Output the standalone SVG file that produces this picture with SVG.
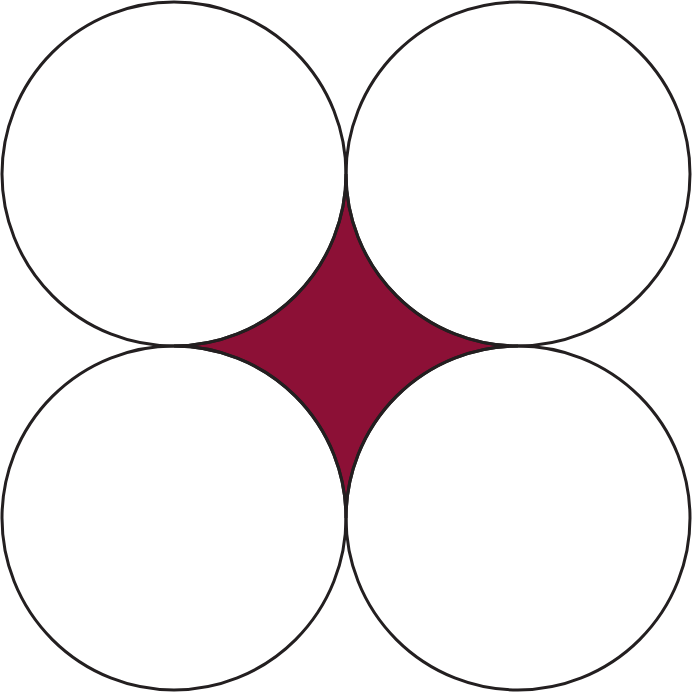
<svg xmlns="http://www.w3.org/2000/svg" width="692" height="692" viewBox="0 0 692 692">
<style>
.c{fill:#fff;stroke:#231f20;stroke-width:3}
.s{fill:#8c1036;stroke:#231f20;stroke-width:3}
</style>
<rect width="692" height="692" fill="#fff"/>
<g id="region"><path class="s" d="M346,174 A172,172 0 0 0 518,346 A172,172 0 0 0 346,518 A172,172 0 0 0 174,346 A172,172 0 0 0 346,174 Z"/></g>
<g id="circle-tl"><circle class="c" cx="174" cy="174" r="172" fill="none" style="fill:none"/></g>
<g id="circle-tr"><circle class="c" cx="518" cy="174" r="172" style="fill:none"/></g>
<g id="circle-bl"><circle class="c" cx="174" cy="518" r="172" style="fill:none"/></g>
<g id="circle-br"><circle class="c" cx="518" cy="518" r="172" style="fill:none"/></g>
</svg>
